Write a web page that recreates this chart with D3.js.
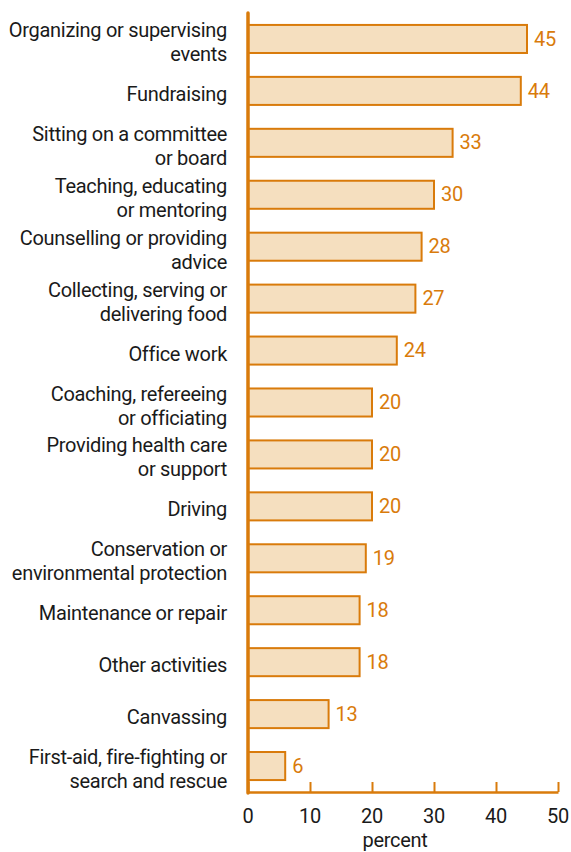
<!DOCTYPE html>
<html>
<head>
<meta charset="utf-8">
<script src="https://cdn.jsdelivr.net/npm/d3@7"></script>
<style>
  body { margin: 0; background: #fff; }
  text { font-family: "Roboto", "Liberation Sans", sans-serif; letter-spacing: -0.3px; }
</style>
</head>
<body>
<div id="chart"></div>
<script>
// activities, top to bottom (each entry = lines of the label)
var categories = [
  ["Organizing or supervising", "events"],
  ["Fundraising"],
  ["Sitting on a committee", "or board"],
  ["Teaching, educating", "or mentoring"],
  ["Counselling or providing", "advice"],
  ["Collecting, serving or", "delivering food"],
  ["Office work"],
  ["Coaching, refereeing", "or officiating"],
  ["Providing health care", "or support"],
  ["Driving"],
  ["Conservation or", "environmental protection"],
  ["Maintenance or repair"],
  ["Other activities"],
  ["Canvassing"],
  ["First-aid, fire-fighting or", "search and rescue"]
];
var values = [45, 44, 33, 30, 28, 27, 24, 20, 20, 20, 19, 18, 18, 13, 6];
var xTicks = [0, 10, 20, 30, 40, 50];

var orange = "#d97b0b";
var fillC = "#f5dfbf";

var width = 571, height = 852;
var margin = {top: 13, left: 248, right: 13, bottom: 60};

var svg = d3.select("#chart").append("svg")
  .attr("width", width)
  .attr("height", height);

var xScale = d3.scaleLinear()
  .domain([0, 50])
  .range([margin.left, width - margin.right]);

var yScale = d3.scaleBand()
  .domain(d3.range(categories.length))
  .range([margin.top, height - margin.bottom])
  .paddingInner(0.46)
  .paddingOuter(0.23);

// bars
svg.append("g")
  .selectAll("rect")
  .data(values)
  .enter()
  .append("rect")
  .attr("x", xScale(0))
  .attr("y", (d, i) => yScale(i))
  .attr("width", d => xScale(d) - xScale(0))
  .attr("height", yScale.bandwidth())
  .attr("fill", fillC)
  .attr("stroke", orange)
  .attr("stroke-width", 2);

// value labels
svg.append("g")
  .selectAll("text")
  .data(values)
  .enter()
  .append("text")
  .attr("x", d => xScale(d) + 7)
  .attr("y", (d, i) => yScale(i) + yScale.bandwidth() / 2)
  .attr("dy", "0.33em")
  .attr("fill", orange)
  .style("font-size", "20px")
  .text(d => d);

// category labels
var labels = svg.append("g")
  .selectAll("text")
  .data(categories)
  .enter()
  .append("text")
  .attr("text-anchor", "end")
  .attr("fill", "#1a1a1a")
  .style("font-size", "20px");

labels.each(function(lines, i) {
  var cy = yScale(i) + yScale.bandwidth() / 2;
  var start = -(lines.length - 1) * 12;
  d3.select(this).selectAll("tspan")
    .data(lines)
    .enter()
    .append("tspan")
    .attr("x", 227)
    .attr("y", (l, j) => cy + start + j * 24)
    .attr("dy", "0.5em")
    .text(l => l);
});

// x axis
var xAxisGenerator = d3.axisTop(xScale)
  .tickValues(xTicks)
  .tickSize(10)
  .tickSizeOuter(0)
  .tickFormat("");
var xAxis = svg.append("g")
  .attr("transform", `translate(0,${height - margin.bottom})`)
  .call(xAxisGenerator);
xAxis.select(".domain").attr("stroke", orange).attr("stroke-width", 2.5);
xAxis.selectAll(".tick line").attr("stroke", orange).attr("stroke-width", 2);

svg.append("g")
  .selectAll("text")
  .data(xTicks)
  .enter()
  .append("text")
  .attr("x", d => xScale(d))
  .attr("y", 823)
  .attr("text-anchor", "middle")
  .attr("fill", "#1a1a1a")
  .style("font-size", "20px")
  .text(d => d);

svg.append("text")
  .attr("x", 395)
  .attr("y", 847)
  .attr("text-anchor", "middle")
  .attr("fill", "#1a1a1a")
  .style("font-size", "20px")
  .text("percent");

// vertical axis line
svg.append("line")
  .attr("x1", xScale(0))
  .attr("x2", xScale(0))
  .attr("y1", margin.top)
  .attr("y2", height - margin.bottom + 1)
  .attr("stroke", orange)
  .attr("stroke-width", 3.5)
  .attr("stroke-linecap", "round");
</script>
</body>
</html>
